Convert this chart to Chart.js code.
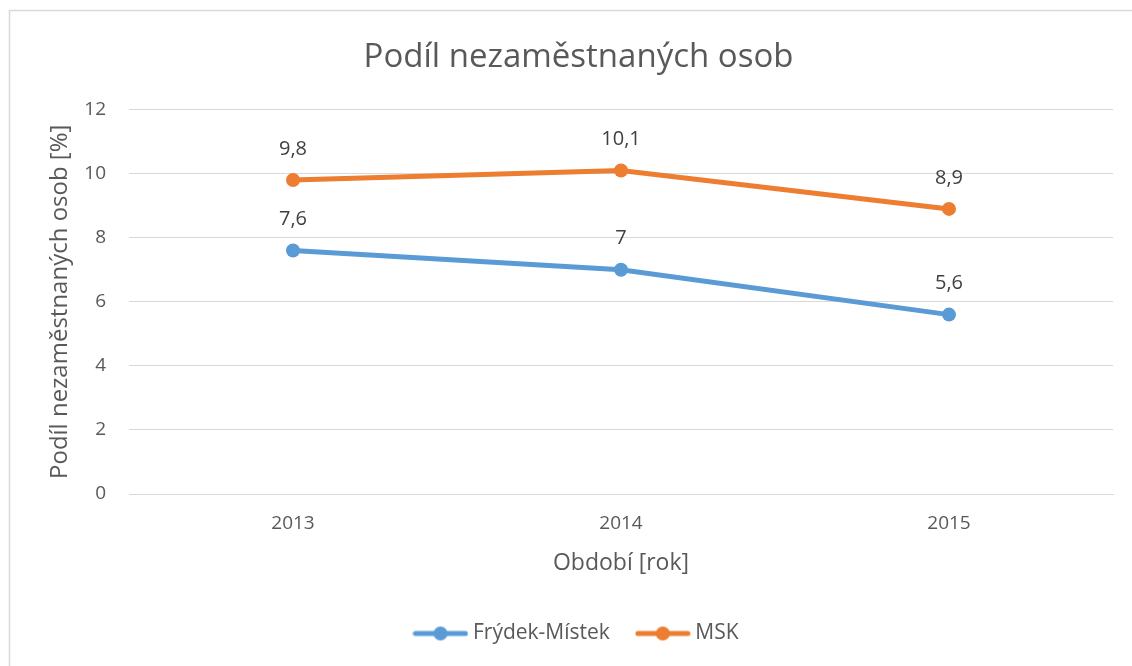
<!DOCTYPE html>
<html>
<head>
<meta charset="utf-8">
<script src="https://cdn.jsdelivr.net/npm/chart.js@4/dist/chart.umd.min.js"></script>
<style>
html,body{margin:0;padding:0;background:#fff;}
canvas{display:block;}
</style>
</head>
<body>
<canvas id="c" width="1132" height="666"></canvas>
<script>
const categories = ["2013", "2014", "2015"];
const frydekMistek = [7.6, 7.0, 5.6];
const msk = [9.8, 10.1, 8.9];
const seriesNames = ["Frýdek-Místek", "MSK"];
const titleText = "Podíl nezaměstnaných osob";
const yTitle = "Podíl nezaměstnaných osob [%]";
const xTitle = "Období [rok]";

const BLUE = "#5B9BD5", ORANGE = "#ED7D31";
const FONT = "'Open Sans', 'DejaVu Sans', sans-serif";

function legendMarker(color) {
  const cv = document.createElement('canvas');
  cv.width = 56; cv.height = 16;
  const g = cv.getContext('2d');
  g.strokeStyle = color; g.lineWidth = 5; g.lineCap = 'round';
  g.beginPath(); g.moveTo(3, 8); g.lineTo(53, 8); g.stroke();
  g.fillStyle = color;
  g.beginPath(); g.arc(28, 8, 7, 0, Math.PI * 2); g.fill();
  return cv;
}

const borderPlugin = {
  id: 'outerBorder',
  beforeDraw(chart) {
    const ctx = chart.ctx;
    ctx.save();
    ctx.fillStyle = '#fff';
    ctx.fillRect(0, 0, chart.width, chart.height);
    ctx.strokeStyle = '#D9D9D9';
    ctx.lineWidth = 1.5;
    ctx.strokeRect(9.5, 10.5, chart.width + 20, chart.height + 20);
    ctx.restore();
  }
};

const labelPlugin = {
  id: 'dataLabels',
  afterDatasetsDraw(chart) {
    const ctx = chart.ctx;
    ctx.save();
    ctx.font = "20px " + FONT;
    ctx.fillStyle = '#404040';
    ctx.textAlign = 'center';
    ctx.textBaseline = 'middle';
    chart.data.datasets.forEach((ds, i) => {
      const meta = chart.getDatasetMeta(i);
      meta.data.forEach((pt, j) => {
        const v = ds.data[j];
        ctx.fillText(String(v).replace('.', ','), pt.x, pt.y - 31);
      });
    });
    ctx.restore();
  }
};

new Chart(document.getElementById('c'), {
  type: 'line',
  data: {
    labels: categories,
    datasets: [
      { label: seriesNames[0], data: frydekMistek, borderColor: BLUE, backgroundColor: BLUE,
        borderWidth: 5, pointRadius: 7, pointHoverRadius: 7, pointBackgroundColor: BLUE,
        pointBorderWidth: 0, tension: 0, pointStyle: 'circle' },
      { label: seriesNames[1], data: msk, borderColor: ORANGE, backgroundColor: ORANGE,
        borderWidth: 5, pointRadius: 7, pointHoverRadius: 7, pointBackgroundColor: ORANGE,
        pointBorderWidth: 0, tension: 0, pointStyle: 'circle' }
    ]
  },
  options: {
    responsive: false,
    animation: false,
    layout: { padding: { left: 44, right: 19, top: 0, bottom: 12 } },
    plugins: {
      title: {
        display: true, text: titleText, color: '#595959',
        font: { family: FONT, size: 33, weight: 'normal' },
        padding: { top: 38, bottom: 32 }
      },
      legend: {
        position: 'bottom',
        labels: {
          color: '#595959',
          font: { family: FONT, size: 21 },
          padding: 20,
          usePointStyle: true,
          pointStyleWidth: 44,
          generateLabels(chart) {
            return chart.data.datasets.map((ds, i) => ({
              text: i === 0 ? ds.label + '\u00A0\u00A0' : ds.label,
              pointStyle: legendMarker(ds.borderColor),
              fillStyle: ds.borderColor,
              strokeStyle: ds.borderColor,
              lineWidth: 0,
              fontColor: '#595959',
              hidden: false,
              datasetIndex: i
            }));
          }
        }
      },
      tooltip: { enabled: false }
    },
    scales: {
      x: {
        offset: true,
        grid: { display: false, drawTicks: false },
        border: { display: true, color: '#D9D9D9', width: 1 },
        ticks: { color: '#595959', font: { family: FONT, size: 19 }, padding: 18 },
        title: { display: true, text: xTitle, color: '#595959',
          font: { family: FONT, size: 23 }, padding: { top: 0, bottom: 26 } },
        afterFit(scale) { scale.height = 109; }
      },
      y: {
        min: 0, max: 12,
        ticks: { stepSize: 2, color: '#595959', font: { family: FONT, size: 19 }, padding: 23 },
        grid: { color: '#D9D9D9', lineWidth: 1, drawTicks: false },
        border: { display: false },
        title: { display: true, text: yTitle, color: '#595959',
          font: { family: FONT, size: 24 }, padding: { top: 2, bottom: 0 } },
        afterFit(scale) { scale.width = 85; }
      }
    }
  },
  plugins: [borderPlugin, labelPlugin]
});
</script>
</body>
</html>
